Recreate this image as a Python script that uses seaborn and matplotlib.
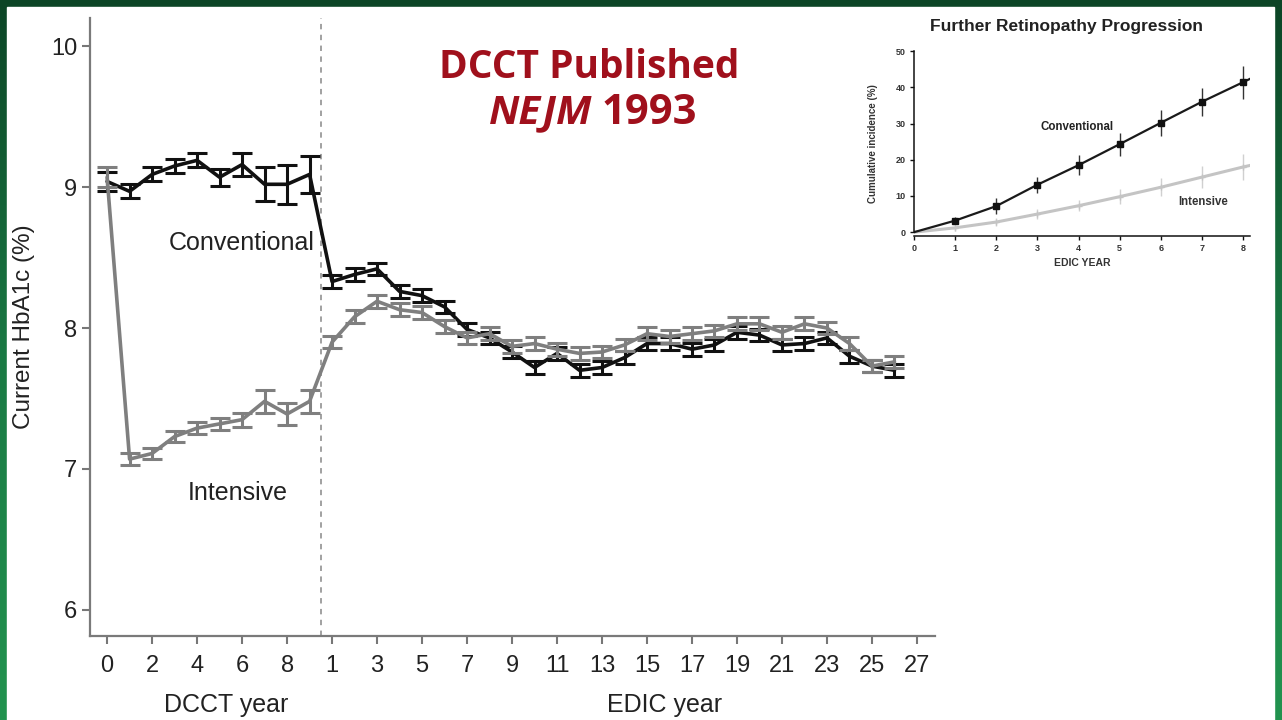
import matplotlib
matplotlib.use("Agg")
import matplotlib.pyplot as plt
from matplotlib.patches import Rectangle
import numpy as np
import pandas as pd
import seaborn as sns

# HbA1c por ano (DCCT 0-9, depois EDIC 1-26)
dcct_year = [0, 1, 2, 3, 4, 5, 6, 7, 8, 9]
conv_dcct = [9.04, 8.97, 9.09, 9.15, 9.19, 9.07, 9.16, 9.02, 9.02, 9.09]
conv_dcct_err = [0.07, 0.05, 0.05, 0.05, 0.05, 0.06, 0.08, 0.12, 0.14, 0.13]
int_dcct = [9.07, 7.07, 7.11, 7.23, 7.29, 7.32, 7.35, 7.48, 7.39, 7.48]
int_dcct_err = [0.07, 0.04, 0.04, 0.04, 0.04, 0.04, 0.05, 0.08, 0.08, 0.08]

edic_year = list(range(1, 27))
conv_edic = [8.33, 8.38, 8.42, 8.26, 8.23, 8.15, 7.99, 7.93, 7.83, 7.72, 7.82, 7.70, 7.72,
             7.79, 7.89, 7.89, 7.85, 7.88, 7.97, 7.95, 7.88, 7.89, 7.93, 7.80, 7.73, 7.70]
int_edic = [7.90, 8.08, 8.19, 8.13, 8.11, 8.01, 7.93, 7.96, 7.87, 7.89, 7.85, 7.82, 7.83,
            7.88, 7.96, 7.94, 7.96, 7.98, 8.03, 8.03, 7.97, 8.03, 8.00, 7.89, 7.73, 7.76]
conv_edic_err = [0.045] * 26
int_edic_err = [0.045] * 26

tick_labels = ['0', '2', '4', '6', '8', '1', '3', '5', '7', '9', '11', '13', '15',
               '17', '19', '21', '23', '25', '27']

# Grafico pequeno: retinopatia
ret_year = [1, 2, 3, 4, 5, 6, 7, 8]
ret_conv = [3.2, 7.2, 13.1, 18.5, 24.3, 30.2, 36.0, 41.4]
ret_conv_err = [1.0, 2.2, 2.2, 2.7, 3.2, 3.6, 3.9, 4.5]
ret_int = [1.2, 2.8, 5.0, 7.3, 9.8, 12.4, 15.2, 18.0]
ret_int_err = [0.8, 1.0, 1.3, 1.5, 2.0, 2.5, 3.0, 3.5]
curve_year = [0, 1, 2, 3, 4, 5, 6, 7, 8, 8.2]
curve_conv = [0, 3.2, 7.2, 13.1, 18.5, 24.3, 30.2, 36.0, 41.4, 42.5]
curve_int = [0, 1.2, 2.8, 5.0, 7.3, 9.8, 12.4, 15.2, 18.0, 18.5]

sns.set_theme(style="white")
plt.rcParams['font.family'] = ['Liberation Sans', 'DejaVu Sans']

# monta a tabela com posicao continua no eixo x
pos = [y for y in dcct_year] + [9 + y for y in edic_year]
df = pd.DataFrame({
    'pos': pos * 2,
    'hba1c': conv_dcct + conv_edic + int_dcct + int_edic,
    'err': conv_dcct_err + conv_edic_err + int_dcct_err + int_edic_err,
    'group': ['Conventional'] * len(pos) + ['Intensive'] * len(pos),
})
colors = {'Conventional': '#111111', 'Intensive': '#7f7f7f'}

fig = plt.figure(figsize=(12.82, 7.2), dpi=100)

# fundo verde com a area branca
bg = fig.add_axes([0, 0, 1, 1], zorder=-10)
grad = np.linspace(0, 1, 256).reshape(-1, 1)
cmap = matplotlib.colors.LinearSegmentedColormap.from_list('g', ['#0c4526', '#1a7a44', '#22934f'])
bg.imshow(grad, cmap=cmap, aspect='auto', extent=[0, 1, 0, 1], origin='upper')
bg.add_patch(Rectangle((7 / 1282, 0), 1267 / 1282, 1 - 7 / 720, color='white', transform=bg.transAxes))
bg.set_xlim(0, 1)
bg.set_ylim(0, 1)
bg.axis('off')

ax = fig.add_axes([0.0702, 0.1167, 0.6591, 0.8583])
ax.patch.set_alpha(0)
for g in ['Conventional', 'Intensive']:
    d = df[df['group'] == g]
    sns.lineplot(data=d, x='pos', y='hba1c', color=colors[g], linewidth=2.6, ax=ax,
                 errorbar=None, zorder=3 if g == 'Intensive' else 2)
    ax.errorbar(d['pos'], d['hba1c'], yerr=d['err'], fmt='none', ecolor=colors[g],
                elinewidth=2.2, capsize=7, capthick=2.2, zorder=3 if g == 'Intensive' else 2)

ax.axvline(9.5, color='#9a9a9a', linestyle=(0, (3, 3)), linewidth=1.3, zorder=1)

ax.set_xlim(-0.76, 36.8)
ax.set_ylim(5.815, 10.2)
ax.set_xticks(range(0, 37, 2))
ax.set_xticklabels(tick_labels)
ax.set_yticks([6, 7, 8, 9, 10])
ax.set_xlabel('')
ax.set_ylabel('Current HbA1c (%)', fontsize=17.5, color='#222222', labelpad=12)
ax.tick_params(axis='both', labelsize=17, colors='#777777', labelcolor='#222222',
               length=6, width=1.5, direction='out', pad=8, bottom=True, left=True)
ax.tick_params(axis='y', pad=3)
sns.despine(ax=ax)
for s in ['left', 'bottom']:
    ax.spines[s].set_color('#7a7a7a')
    ax.spines[s].set_linewidth(1.6)

ax.text(5.3, -0.112, 'DCCT year', transform=ax.get_xaxis_transform(), ha='center',
        va='center', fontsize=18, color='#222222')
ax.text(24.8, -0.112, 'EDIC year', transform=ax.get_xaxis_transform(), ha='center',
        va='center', fontsize=18, color='#222222')
ax.text(6.0, 8.6, 'Conventional', ha='center', va='center', fontsize=18, color='#222222')
ax.text(5.82, 6.83, 'Intensive', ha='center', va='center', fontsize=18, color='#222222')

# titulo em vermelho
red = '#a0101c'
fig.text(589 / 1282, 1 - 67 / 720, 'DCCT Published', ha='center', va='center', fontsize=28,
         fontweight='bold', color=red, family='Open Sans')
fig.text(592 / 1282, 1 - 113 / 720, 'NEJM', ha='right', va='center', fontsize=29,
         fontweight='bold', style='italic', color=red, family='Open Sans')
fig.text(602 / 1282, 1 - 113 / 720, '1993', ha='left', va='center', fontsize=30,
         fontweight='bold', color=red, family='Open Sans')

# grafico pequeno
ins = fig.add_axes([0.713, 0.672, 0.262, 0.257])
ins.patch.set_alpha(0)
sns.lineplot(x=curve_year, y=curve_int, color='#c4c4c4', linewidth=2.2, ax=ins)
sns.lineplot(x=curve_year, y=curve_conv, color='#1a1a1a', linewidth=1.6, ax=ins)
ins.errorbar(ret_year, ret_int, yerr=ret_int_err, fmt='+', color='#c4c4c4', ecolor='#d0d0d0',
             elinewidth=1.0, markersize=5, capsize=0)
ins.errorbar(ret_year, ret_conv, yerr=ret_conv_err, fmt='s', color='#111111', ecolor='#333333',
             elinewidth=1.0, markersize=4.5, capsize=0)
ins.set_xlim(0, 8.17)
ins.set_ylim(-1.1, 50)
ins.set_xticks(range(0, 9))
ins.set_yticks(range(0, 51, 10))
sns.despine(ax=ins)
for s in ['left', 'bottom']:
    ins.spines[s].set_color('#111111')
    ins.spines[s].set_linewidth(1.1)
ins.spines['left'].set_bounds(0, 50)
ins.tick_params(axis='both', labelsize=6.5, length=3, width=1, colors='#111111',
                labelcolor='#333333', direction='out', pad=3, bottom=True, left=True)
for lab in ins.get_xticklabels() + ins.get_yticklabels():
    lab.set_fontweight('bold')
ins.set_xlabel('EDIC YEAR', fontsize=7.5, fontweight='bold', color='#333333', labelpad=3)
ins.set_ylabel('Cumulative incidence (%)', fontsize=7, fontweight='bold', color='#333333',
               labelpad=13)
ins.text(3.97, 29.0, 'Conventional', ha='center', va='center', fontsize=8.3,
         fontweight='bold', color='#222222')
ins.text(7.03, 8.3, 'Intensive', ha='center', va='center', fontsize=8.3,
         fontweight='bold', color='#333333')
fig.text(1066 / 1282, 1 - 26 / 720, 'Further Retinopathy Progression', ha='center',
         va='center', fontsize=12.5, fontweight='bold', color='#222222')

fig.savefig('out.png', dpi=100)
